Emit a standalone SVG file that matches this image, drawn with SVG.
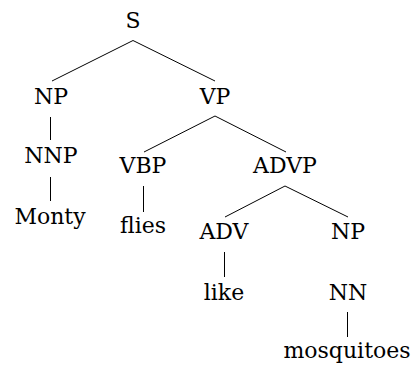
<svg xmlns="http://www.w3.org/2000/svg" width="414" height="369" viewBox="0 0 414 369">
  <style>
    .lbl { font-family: "DejaVu Serif", "Liberation Serif", serif; font-size: 22px; fill: #000; text-anchor: middle; }
    .edge { stroke: #000; stroke-width: 1; fill: none; }
  </style>
  <rect width="414" height="369" fill="#fff"/>
  <g id="edges" class="edge">
    <line x1="133" y1="40.5" x2="52" y2="81"/>
    <line x1="133" y1="40.5" x2="215" y2="81"/>
    <line x1="50.5" y1="117" x2="50.5" y2="140"/>
    <line x1="215" y1="116" x2="144" y2="152"/>
    <line x1="215" y1="116" x2="286" y2="152"/>
    <line x1="50.5" y1="177" x2="50.5" y2="201"/>
    <line x1="143.5" y1="186" x2="143.5" y2="212"/>
    <line x1="285" y1="186" x2="225" y2="217"/>
    <line x1="285" y1="186" x2="348" y2="217"/>
    <line x1="224.5" y1="252" x2="224.5" y2="277"/>
    <line x1="347.5" y1="312" x2="347.5" y2="337"/>
  </g>
  <g id="n-S"><text class="lbl" x="133" y="28">S</text></g>
  <g id="n-NP"><text class="lbl" x="51" y="104">NP</text></g>
  <g id="n-VP"><text class="lbl" x="215" y="104">VP</text></g>
  <g id="n-NNP"><text class="lbl" x="51" y="163">NNP</text></g>
  <g id="n-VBP"><text class="lbl" x="143" y="173">VBP</text></g>
  <g id="n-ADVP"><text class="lbl" x="285" y="173">ADVP</text></g>
  <g id="n-Monty"><text class="lbl" x="50" y="224">Monty</text></g>
  <g id="n-flies"><text class="lbl" x="143" y="233">flies</text></g>
  <g id="n-ADV"><text class="lbl" x="224" y="239">ADV</text></g>
  <g id="n-NP2"><text class="lbl" x="348" y="239">NP</text></g>
  <g id="n-like"><text class="lbl" x="224" y="300">like</text></g>
  <g id="n-NN"><text class="lbl" x="348" y="300">NN</text></g>
  <g id="n-mosquitoes"><text class="lbl" x="347" y="358">mosquitoes</text></g>
</svg>
